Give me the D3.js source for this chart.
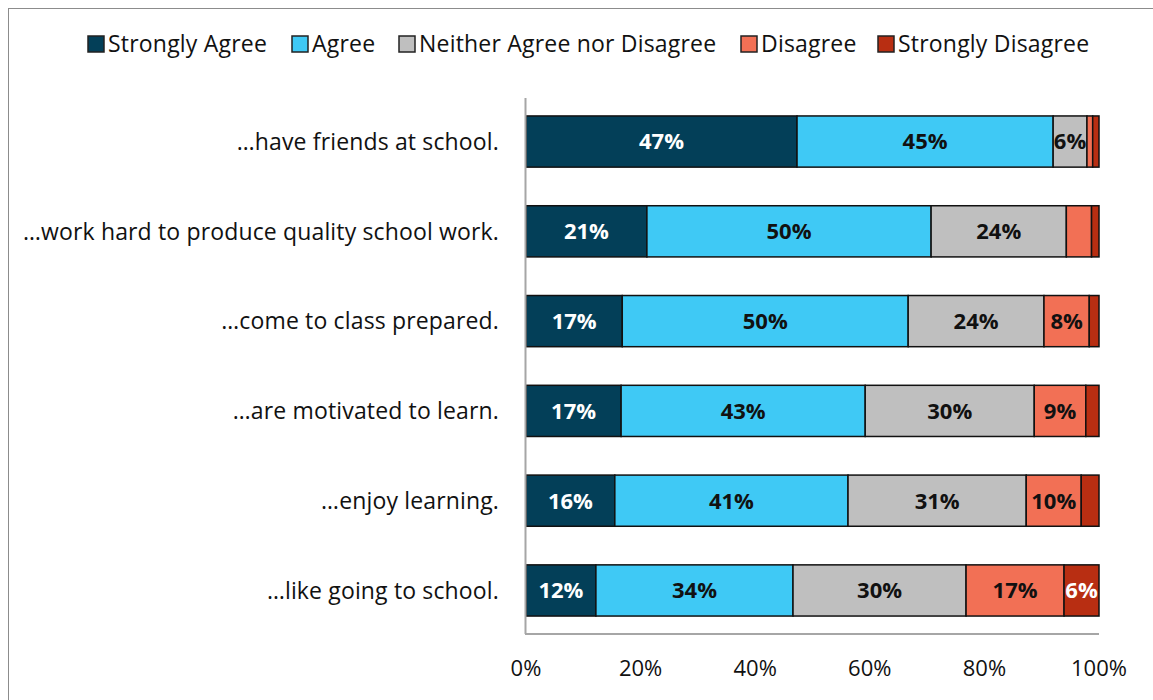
<!DOCTYPE html>
<html>
<head>
<meta charset="utf-8">
<script src="https://cdn.jsdelivr.net/npm/d3@7"></script>
<style>
  html, body { margin: 0; padding: 0; background: #fff; }
  svg { display: block; }
  text { font-family: "Open Sans", "Noto Sans", sans-serif; }
</style>
</head>
<body>
<svg id="chart" width="1153" height="700"></svg>
<script>
// Survey statements (rows, top to bottom)
const statements = [
  "…have friends at school.",
  "…work hard to produce quality school work.",
  "…come to class prepared.",
  "…are motivated to learn.",
  "…enjoy learning.",
  "…like going to school."
];

// Response categories
const responses = ["Strongly Agree", "Agree", "Neither Agree nor Disagree", "Disagree", "Strongly Disagree"];

// Percent of respondents per response, one array per category (same order as statements)
const stronglyAgree    = [47.3, 21.1, 16.8, 16.6, 15.5, 12.2];
const agree            = [44.7, 49.6, 49.9, 42.6, 40.7, 34.4];
const neither          = [ 5.9, 23.6, 23.7, 29.5, 31.1, 30.2];
const disagree         = [ 1.0,  4.4,  7.9,  9.0,  9.6, 17.1];
const stronglyDisagree = [ 1.1,  1.3,  1.7,  2.3,  3.1,  6.1];

// Which segments carry a percentage label
const showLabel = [
  [true, true, true, false, false],
  [true, true, true, false, false],
  [true, true, true, true, false],
  [true, true, true, true, false],
  [true, true, true, true, false],
  [true, true, true, true, true]
];

const xTicks = [0, 20, 40, 60, 80, 100];

const colors = ["#033f58", "#3fc9f5", "#bfbfbf", "#f27055", "#b82e12"];
const labelColors = ["#ffffff", "#111111", "#111111", "#111111", "#ffffff"];

const series = [stronglyAgree, agree, neither, disagree, stronglyDisagree];

// Build a row table for d3.stack
const table = statements.map((s, i) => {
  const row = { statement: s, index: i };
  responses.forEach((r, k) => { row[r] = series[k][i]; });
  return row;
});
const stacked = d3.stack().keys(responses)(table);

const svg = d3.select("#chart");

// Outer frame
svg.append("rect")
  .attr("x", 8.5).attr("y", 8.5)
  .attr("width", 1200).attr("height", 800)
  .attr("fill", "none").attr("stroke", "#8c8c8c").attr("stroke-width", 1);

const plot = { left: 526, right: 1099, top: 98, bottom: 634 };

const x = d3.scaleLinear().domain([0, 100]).range([plot.left, plot.right]);
const y = d3.scaleBand().domain(statements).range([plot.top, plot.bottom]).paddingInner(0.43).paddingOuter(0.2);

// Bars
const groups = svg.append("g").selectAll("g")
  .data(stacked).join("g")
  .attr("fill", (d, k) => colors[k]);

groups.selectAll("rect")
  .data(d => d).join("rect")
  .attr("x", d => x(d[0]))
  .attr("y", d => y(d.data.statement))
  .attr("width", d => x(d[1]) - x(d[0]))
  .attr("height", y.bandwidth())
  .attr("stroke", "#111")
  .attr("stroke-width", 1.5);

// Segment labels
stacked.forEach((layer, k) => {
  svg.append("g").selectAll("text")
    .data(layer.filter(d => showLabel[d.data.index][k])).join("text")
    .attr("x", d => (x(d[0]) + x(d[1])) / 2)
    .attr("y", d => y(d.data.statement) + y.bandwidth() / 2)
    .attr("dy", "0.36em")
    .attr("text-anchor", "middle")
    .attr("font-size", 22)
    .attr("font-weight", 700)
    .attr("fill", labelColors[k])
    .text(d => Math.round(d[1] - d[0]) + "%");
});

// Category axis (left)
svg.append("g").selectAll("text")
  .data(statements).join("text")
  .attr("x", 499)
  .attr("y", d => y(d) + y.bandwidth() / 2)
  .attr("dy", "0.36em")
  .attr("text-anchor", "end")
  .attr("font-size", 23)
  .attr("letter-spacing", 0.15)
  .attr("fill", "#111")
  .text(d => d);

// Axis lines
svg.append("line")
  .attr("x1", plot.left - 0.5).attr("x2", plot.left - 0.5)
  .attr("y1", plot.top).attr("y2", plot.bottom)
  .attr("stroke", "#a6a6a6").attr("stroke-width", 2);
svg.append("line")
  .attr("x1", plot.left - 1).attr("x2", plot.right)
  .attr("y1", plot.bottom).attr("y2", plot.bottom)
  .attr("stroke", "#a6a6a6").attr("stroke-width", 2);

// Value axis tick labels
svg.append("g").selectAll("text")
  .data(xTicks).join("text")
  .attr("x", d => x(d))
  .attr("y", 668)
  .attr("dy", "0.36em")
  .attr("text-anchor", "middle")
  .attr("font-size", 22)
  .attr("fill", "#111")
  .text(d => d + "%");

// Legend
const legendX = [88, 292, 399, 741, 878];
const legend = svg.append("g").selectAll("g")
  .data(responses).join("g")
  .attr("transform", (d, k) => `translate(${legendX[k]},44)`);
legend.append("rect")
  .attr("x", 0).attr("y", -8)
  .attr("width", 16).attr("height", 16)
  .attr("fill", (d, k) => colors[k])
  .attr("stroke", "#222").attr("stroke-width", 1.5);
legend.append("text")
  .attr("x", 20).attr("y", 0)
  .attr("dy", "0.36em")
  .attr("font-size", 23)
  .attr("letter-spacing", 0.2)
  .attr("fill", "#111")
  .text(d => d);
</script>
</body>
</html>
